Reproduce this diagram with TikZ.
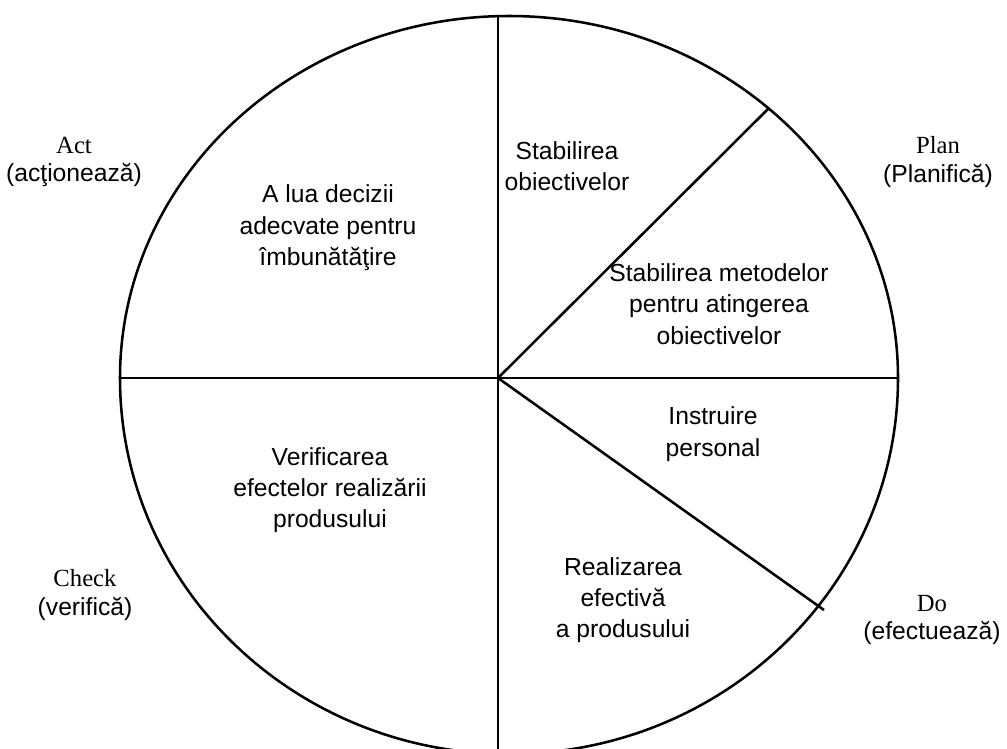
\documentclass[tikz,border=0pt]{standalone}
\usepackage{fontspec}
\setmainfont{Liberation Serif}
\setsansfont{Liberation Sans}
\begin{document}
\begin{tikzpicture}[x=0.75pt,y=-0.75pt,
  line/.style={line width=1.9pt,black},
  sector/.style={align=center,inner sep=0pt,font=\sffamily\fontsize{18.5}{23.5}\selectfont},
  phase/.style={align=center,inner sep=0pt,font=\fontsize{18.5}{21.5}\selectfont}]
\useasboundingbox (0,0) rectangle (1007,749);
\clip (0,0) rectangle (1007,749);
\fill[white] (0,0) rectangle (1007,749);
% centre and end points
\coordinate (C) at (498,378);
\coordinate (L) at (120,378);
\coordinate (R) at (898,378);
\coordinate (T) at (498,16);
\coordinate (B) at (498,770);
\coordinate (P) at (769,108);
\coordinate (D) at (824,610);
% circle
\draw[line] (L) arc[start angle=180,end angle=0,x radius=291.75pt,y radius=271.5pt]
            arc[start angle=0,end angle=-180,x radius=291.75pt,y radius=282pt];
% dividers
\draw[line] (T) -- (B);
\draw[line] (L) -- (R);
\draw[line] (C) -- (P);
\draw[line] (C) -- (D);
% sector texts
\node[sector] (s1) at (567,166) {Stabilirea\\obiectivelor};
\node[sector] (s2) at (328,228) {A lua decizii\\adecvate pentru\\îmbunătăţire};
\node[sector] (s3) at (719,304) {Stabilirea metodelor\\pentru atingerea\\obiectivelor};
\node[sector] (s4) at (713,434) {Instruire\\personal};
\node[sector] (s5) at (330,490) {Verificarea\\efectelor realizării\\produsului};
\node[sector] (s6) at (623,600) {Realizarea\\efectivă\\a produsului};
% phase labels
\node[phase] (act) at (74,162) {Act\\{\sffamily(acţionează)}};
\node[phase] (plan) at (938,162) {Plan\\{\sffamily(Planifică)}};
\node[phase] (check) at (85,595) {Check\\{\sffamily(verifică)}};
\node[phase] (do) at (932,620) {Do\\{\sffamily(efectuează)}};
\end{tikzpicture}
\end{document}
